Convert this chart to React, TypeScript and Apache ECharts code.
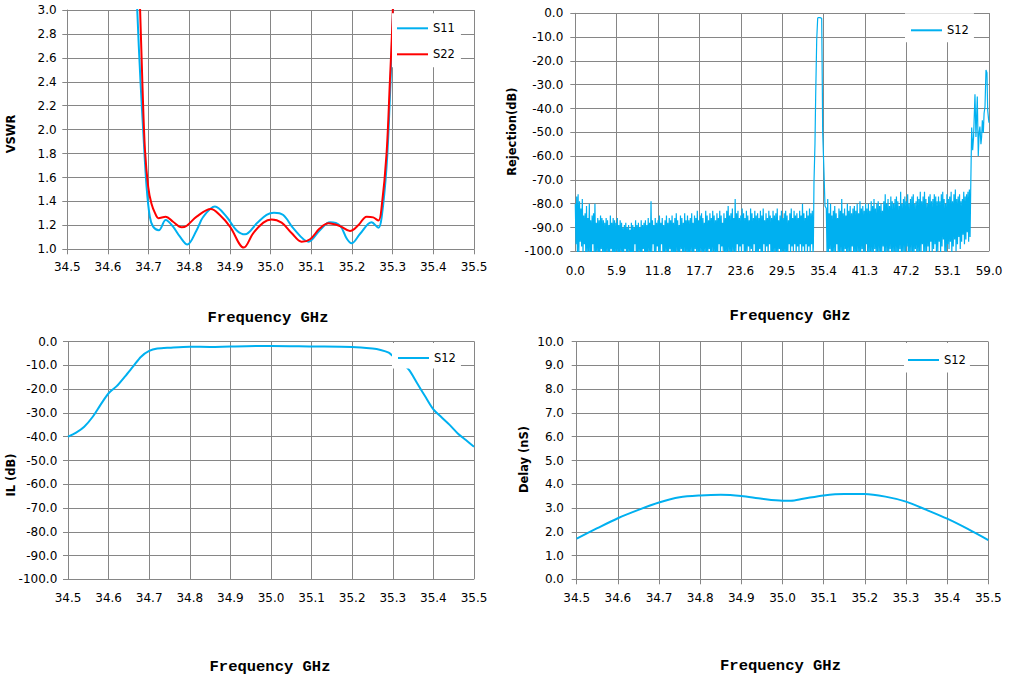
import React, { useEffect, useRef } from "react";
import * as echarts from "echarts";

// ---------- Chart 1: VSWR ----------
const s11Freq = [34.66, 34.672, 34.68, 34.687, 34.695, 34.703, 34.711, 34.725, 34.742, 34.76, 34.777, 34.795, 34.818, 34.834, 34.863, 34.892, 34.916, 34.937, 34.966, 34.99, 35.008, 35.031, 35.056, 35.093, 35.121, 35.146, 35.17, 35.187, 35.199, 35.22, 35.248, 35.265, 35.273, 35.285, 35.293, 35.3, 35.306];
const s11Vswr = [4.2, 3.0, 2.4, 1.97, 1.52, 1.27, 1.19, 1.16, 1.245, 1.19, 1.105, 1.04, 1.16, 1.27, 1.357, 1.27, 1.16, 1.125, 1.217, 1.287, 1.306, 1.287, 1.175, 1.064, 1.16, 1.226, 1.2, 1.09, 1.05, 1.13, 1.226, 1.18, 1.27, 1.69, 2.25, 2.9, 3.6];
const s22Freq = [34.668, 34.679, 34.685, 34.691, 34.699, 34.707, 34.716, 34.724, 34.742, 34.76, 34.781, 34.793, 34.818, 34.853, 34.875, 34.9, 34.934, 34.957, 34.982, 35.002, 35.027, 35.052, 35.076, 35.097, 35.121, 35.142, 35.17, 35.195, 35.216, 35.236, 35.252, 35.265, 35.273, 35.285, 35.293, 35.3, 35.306];
const s22Vswr = [4.0, 3.0, 2.35, 1.83, 1.52, 1.38, 1.3, 1.26, 1.273, 1.23, 1.184, 1.195, 1.273, 1.337, 1.287, 1.19, 1.014, 1.134, 1.223, 1.25, 1.223, 1.134, 1.064, 1.084, 1.175, 1.217, 1.195, 1.153, 1.203, 1.273, 1.267, 1.24, 1.357, 1.8, 2.39, 2.95, 3.7];

// ---------- Chart 2: wideband rejection (S12, 0-59 GHz) ----------
// Low stopband 0-33.9 GHz: peaks read at 0.0, 0.2, 0.4 ... GHz, troughs at 0.1, 0.3, 0.5 ... GHz
const rejLowStart = 0.0;
const rejLowPeaks = [
  -80, -77, -76, -79, -82, -78, -85, -84, -81, -86,
  -80, -87, -85, -84, -80, -88, -86, -87, -85, -86,
  -87, -88, -86, -87, -89, -85, -88, -86, -87, -88,
  -86, -89, -87, -88, -90, -89, -88, -90, -89, -91,
  -88, -89, -90, -87, -89, -88, -90, -87, -89, -88,
  -87, -89, -86, -88, -79, -87, -89, -86, -88, -87,
  -85, -88, -86, -89, -87, -85, -88, -86, -87, -85,
  -88, -86, -84, -87, -89, -85, -86, -88, -84, -87,
  -85, -87, -86, -84, -88, -85, -86, -83, -87, -85,
  -84, -86, -88, -83, -85, -87, -84, -86, -83, -85,
  -87, -84, -86, -83, -85, -88, -84, -86, -83, -81,
  -85, -84, -82, -86, -78, -84, -83, -86, -85, -82,
  -84, -86, -83, -85, -87, -82, -84, -86, -83, -85,
  -84, -86, -83, -85, -82, -87, -84, -86, -83, -85,
  -86, -83, -85, -84, -82, -87, -85, -83, -86, -84,
  -83, -85, -87, -84, -82, -86, -83, -85, -84, -86,
  -83, -85, -80, -84, -86, -83, -85, -82, -84, -83,
];
const rejLowTroughs = [
  -97, -101, -102, -96, -98, -101, -97, -102, -101, -100,
  -102, -101, -97, -101, -102, -100, -101, -102, -99, -101,
  -101, -102, -100, -101, -102, -99, -101, -102, -101, -100,
  -102, -101, -100, -102, -101, -99, -102, -101, -100, -102,
  -101, -102, -97, -101, -102, -100, -101, -102, -99, -101,
  -102, -101, -100, -102, -101, -97, -102, -101, -98, -101,
  -101, -97, -102, -101, -100, -102, -101, -99, -102, -101,
  -102, -101, -100, -102, -101, -99, -102, -101, -100, -102,
  -101, -102, -100, -101, -102, -99, -101, -102, -101, -100,
  -102, -101, -100, -102, -101, -99, -102, -101, -100, -102,
  -101, -102, -97, -101, -98, -100, -101, -102, -101, -100,
  -102, -101, -100, -102, -101, -97, -102, -98, -101, -97,
  -101, -102, -100, -98, -101, -99, -102, -97, -101, -102,
  -101, -99, -102, -101, -97, -101, -98, -102, -97, -101,
  -102, -101, -100, -102, -101, -99, -102, -101, -100, -102,
  -101, -102, -97, -101, -98, -100, -97, -102, -98, -101,
  -97, -101, -98, -102, -97, -101, -98, -102, -97, -101,
];
// Passband skirt 33.95-35.6 GHz
const rejPassFreq = [33.95, 34.04, 34.18, 34.28, 34.43, 34.57, 34.7, 34.9, 35.0, 35.14, 35.23, 35.28, 35.47, 35.61];
const rejPassVal = [-98, -71, -55, -35, -11, -2, -1.8, -1.8, -1.9, -2.2, -31, -50, -67, -81];
// High stopband 35.8-56.3 GHz: peaks at 35.8, 36.0 ... troughs at 35.9, 36.1 ...
const rejHighStart = 35.8;
const rejHighPeaks = [
  -82, -78, -84, -80, -85, -83, -81, -84, -86, -82,
  -83, -78, -84, -82, -85, -80, -83, -81, -84, -82,
  -81, -83, -80, -84, -79, -82, -81, -83, -80, -82,
  -80, -83, -79, -81, -78, -82, -80, -79, -81, -80,
  -83, -79, -76, -80, -78, -81, -77, -79, -80, -78,
  -77, -79, -81, -75, -80, -78, -77, -79, -76, -80,
  -78, -77, -76, -80, -79, -77, -78, -75, -79, -77,
  -75, -78, -80, -77, -76, -79, -78, -76, -77, -79,
  -77, -79, -76, -75, -78, -80, -76, -78, -77, -75,
  -79, -76, -74, -78, -77, -76, -79, -78, -75, -77,
  -76, -75, -74,
];
const rejHighTroughs = [
  -101, -102, -99, -101, -102, -100, -101, -97, -102, -101,
  -100, -102, -101, -99, -102, -101, -100, -102, -98, -101,
  -102, -101, -100, -102, -101, -99, -102, -101, -97, -102,
  -101, -100, -102, -101, -99, -102, -101, -100, -102, -101,
  -98, -102, -101, -100, -102, -99, -101, -102, -100, -101,
  -102, -101, -99, -102, -101, -100, -102, -98, -101, -102,
  -100, -101, -102, -99, -101, -102, -100, -101, -97, -102,
  -101, -100, -98, -102, -96, -101, -99, -97, -101, -100,
  -96, -101, -98, -95, -100, -102, -97, -99, -96, -101,
  -98, -95, -100, -97, -94, -99, -96, -93, -97, -95,
  -92, -96, -94,
];
// Spurious region 56.4-59 GHz
const rejTopFreq = [56.39, 56.53, 56.67, 56.8, 57.0, 57.14, 57.33, 57.47, 57.6, 57.7, 57.85, 57.95, 58.05, 58.19, 58.3, 58.43, 58.57, 58.71, 58.81, 58.95, 59.0];
const rejTopVal = [-74, -48, -57.5, -52, -34, -52, -35, -60, -50, -47.6, -55, -51.8, -45, -50.3, -42, -39.2, -23.8, -25, -40.6, -44.8, -46];
const rejStep = 0.1;

// ---------- Chart 3: insertion loss ----------
const ilFreq = [34.5, 34.52, 34.54, 34.56, 34.58, 34.6, 34.62, 34.64, 34.66, 34.68, 34.7, 34.72, 34.75, 34.8, 34.85, 34.9, 35.0, 35.1, 35.2, 35.25, 35.27, 35.29, 35.3, 35.32, 35.34, 35.36, 35.38, 35.4, 35.42, 35.44, 35.46, 35.48, 35.5];
const ilVal = [-40, -38.3, -35.8, -31.8, -26.6, -21.7, -18.7, -14.7, -10.5, -6.3, -3.9, -2.9, -2.5, -2.1, -2.2, -2.0, -1.8, -2.0, -2.2, -2.9, -3.5, -4.6, -6.0, -8.5, -11.9, -17.5, -23.1, -28.5, -31.8, -35, -38.6, -41.4, -44.2];

// ---------- Chart 4: group delay ----------
const delayFreq = [34.5, 34.55, 34.6, 34.65, 34.7, 34.75, 34.8, 34.85, 34.9, 34.95, 35.0, 35.02, 35.05, 35.1, 35.15, 35.2, 35.25, 35.3, 35.35, 35.4, 35.45, 35.5];
const delayVal = [1.71, 2.15, 2.57, 2.92, 3.23, 3.45, 3.53, 3.56, 3.51, 3.39, 3.31, 3.31, 3.39, 3.53, 3.59, 3.59, 3.48, 3.27, 2.92, 2.55, 2.12, 1.65];

const BLUE = "#00b0f0";
const RED = "#ff0000";
const GRID = "#868686";
const FONT = '"DejaVu Sans", sans-serif';

const pairs = (xs: number[], ys: number[]) => xs.map((x, i) => [x, ys[i]]);
const interleave = (start: number, step: number, peaks: number[], troughs: number[]) => {
  const out: number[][] = [];
  peaks.forEach((p, i) => {
    const f = start + 2 * i * step;
    out.push([Math.round(f * 1000) / 1000, p]);
    if (i < troughs.length) out.push([Math.round((f + step) * 1000) / 1000, troughs[i]]);
  });
  return out;
};

function axisCommon(margin: number) {
  return {
    axisLine: { show: true, lineStyle: { color: GRID, width: 1 } },
    axisTick: { show: true, length: 5, lineStyle: { color: GRID } },
    splitLine: { show: true, lineStyle: { color: GRID, width: 1 } },
    axisLabel: {
      margin,
      color: "#000",
      fontFamily: FONT,
      fontSize: 12,
      formatter: (v: number) => v.toFixed(1),
      showMinLabel: true,
      showMaxLabel: true,
    },
  };
}

function xAxis(gridIndex: number, min: number, max: number, interval: number, margin: number) {
  return { type: "value", gridIndex, min, max, interval, ...axisCommon(margin) };
}
function yAxis(gridIndex: number, min: number, max: number, interval: number, margin: number) {
  return { type: "value", gridIndex, min, max, interval, ...axisCommon(margin) };
}

function legend(names: string[], left: number, top: number, padding: number[]) {
  return {
    data: names,
    orient: "vertical",
    left,
    top,
    padding,
    itemGap: 14,
    itemWidth: 31,
    itemHeight: 14,
    backgroundColor: "#ffffff",
    selectedMode: false,
    itemStyle: { opacity: 0 },
    textStyle: { color: "#000", fontFamily: FONT, fontSize: 11.5 },
  };
}

function hText(text: string, x: number, y: number) {
  return {
    type: "text",
    x,
    y,
    style: {
      text,
      fontFamily: '"Liberation Mono", "DejaVu Sans Mono", monospace',
      fontSize: 15.5,
      fontWeight: "bold",
      fill: "#000",
      align: "center",
      verticalAlign: "middle",
      textAlign: "center",
      textVerticalAlign: "middle",
    },
  };
}
function vText(text: string, x: number, y: number) {
  return {
    type: "text",
    x,
    y,
    rotation: Math.PI / 2,
    style: {
      text,
      fontFamily: FONT,
      fontSize: 11.5,
      fontWeight: "bold",
      fill: "#000",
      align: "center",
      verticalAlign: "middle",
      textAlign: "center",
      textVerticalAlign: "middle",
    },
  };
}

export default function App() {
  const ref = useRef<HTMLDivElement>(null);
  useEffect(() => {
    document.body.style.margin = "0";
    if (!ref.current) return;
    const chart = echarts.init(ref.current, undefined, { renderer: "svg" });
    const rejData = [
      ...interleave(rejLowStart, rejStep, rejLowPeaks, rejLowTroughs),
      ...pairs(rejPassFreq, rejPassVal),
      ...interleave(rejHighStart, rejStep, rejHighPeaks, rejHighTroughs),
      ...pairs(rejTopFreq, rejTopVal),
    ];
    chart.setOption({
      animation: false,
      backgroundColor: "#ffffff",
      grid: [
        { left: 67.3, top: 10, width: 406.7, height: 239.3 },
        { left: 575.3, top: 13.3, width: 413.7, height: 238 },
        { left: 68, top: 341.7, width: 406, height: 237.6 },
        { left: 576.7, top: 341.7, width: 411.6, height: 237.6 },
      ],
      xAxis: [
        xAxis(0, 34.5, 35.5, 0.1, 12),
        xAxis(1, 0, 59, 5.9, 14),
        xAxis(2, 34.5, 35.5, 0.1, 12.5),
        xAxis(3, 34.5, 35.5, 0.1, 12.5),
      ],
      yAxis: [
        yAxis(0, 1.0, 3.0, 0.2, 10.6),
        yAxis(1, -100, 0, 10, 12),
        yAxis(2, -100, 0, 10, 10.7),
        yAxis(3, 0, 10, 1, 12.7),
      ],
      legend: [
        legend(["S11", "S22"], 392, 13.3, [9, 6, 7, 4]),
        legend(["S12"], 905, 13.3, [11, 5, 6, 5]),
        legend(["S12"], 392, 343, [9, 5, 4.5, 5]),
        legend(["S12"], 904, 343, [11, 4, 6.5, 3]),
      ],
      series: [
        { name: "S11", type: "line", xAxisIndex: 0, yAxisIndex: 0, data: pairs(s11Freq, s11Vswr), symbol: "none", smooth: 0.35, clip: true, lineStyle: { color: BLUE, width: 2 }, itemStyle: { color: BLUE } },
        { name: "S22", type: "line", xAxisIndex: 0, yAxisIndex: 0, data: pairs(s22Freq, s22Vswr), symbol: "none", smooth: 0.35, clip: true, lineStyle: { color: RED, width: 2 }, itemStyle: { color: RED } },
        { name: "S12", type: "line", xAxisIndex: 1, yAxisIndex: 1, data: rejData, symbol: "none", clip: true, lineStyle: { color: BLUE, width: 1.2 }, itemStyle: { color: BLUE } },
        { name: "S12", type: "line", xAxisIndex: 2, yAxisIndex: 2, data: pairs(ilFreq, ilVal), symbol: "none", smooth: 0.3, clip: true, lineStyle: { color: BLUE, width: 2 }, itemStyle: { color: BLUE } },
        { name: "S12", type: "line", xAxisIndex: 3, yAxisIndex: 3, data: pairs(delayFreq, delayVal), symbol: "none", smooth: 0.3, clip: true, lineStyle: { color: BLUE, width: 2 }, itemStyle: { color: BLUE } },
      ],
      graphic: [
        hText("Frequency GHz", 268, 318),
        hText("Frequency GHz", 790, 316),
        hText("Frequency GHz", 270, 666.5),
        hText("Frequency GHz", 780.5, 666),
        vText("VSWR", 10.5, 134),
        vText("Rejection(dB)", 512, 131.7),
        vText("IL (dB)", 10.5, 475),
        vText("Delay (nS)", 524, 459.5),
      ],
    });
    return () => chart.dispose();
  }, []);
  return <div ref={ref} style={{ width: 1013, height: 686 }} />;
}
